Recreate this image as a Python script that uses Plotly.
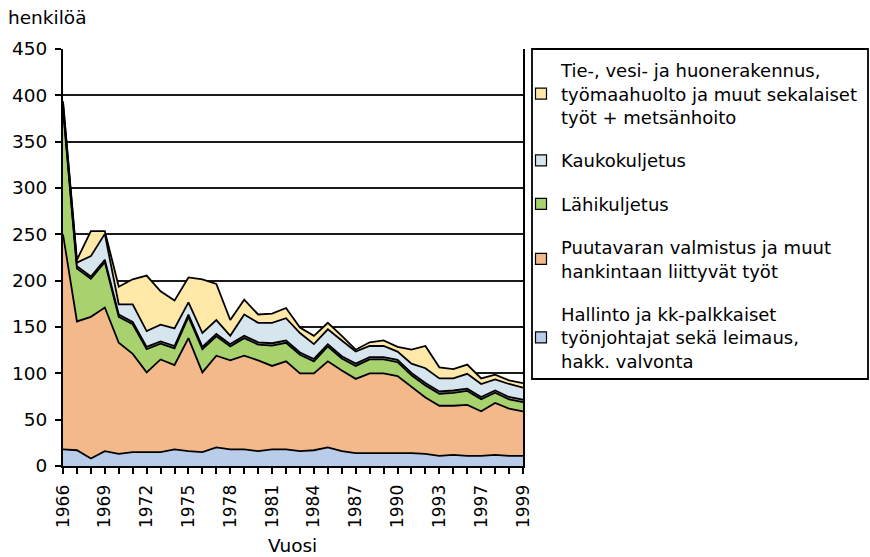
import plotly.graph_objects as go

# ---- data -------------------------------------------------------------
years = [str(y) for y in range(1966, 1994)] + ["1994", "1995", "1996", "1997", "1998", "1999"]
tick_labels = ["1966", "1969", "1972", "1975", "1978", "1981", "1984",
               "1987", "1990", "1993", "1997", "1999"]

hallinto = [18, 17, 8, 16, 13, 15, 15, 15, 18, 16, 15, 20, 18, 18, 16, 18, 18,
            16, 17, 20, 16, 14, 14, 14, 14, 14, 13, 11, 12, 11, 11, 12, 11, 11]
puutavara = [232, 139, 153, 155, 120, 106, 86, 100, 91, 122, 86, 99, 96, 101, 98, 90, 95,
             84, 83, 93, 87, 80, 86, 86, 83, 71, 61, 54, 53, 55, 48, 56, 51, 48]
lahikuljetus = [135, 57, 41, 49, 28, 32, 25, 17, 18, 23, 25, 21, 15, 19, 17, 22, 20,
                20, 13, 16, 13, 14, 15, 15, 15, 13, 13, 13, 14, 15, 13, 11, 10, 10]
muu = [2.5] * 34
kaukokuljetus = [4, 4, 22, 28, 11, 19, 17, 18, 19, 13, 15, 15, 9, 23, 21, 22, 24,
                 21, 16, 16, 17, 13, 12, 12, 9, 10, 16, 14, 13, 16, 14, 12, 14, 13]
tie_vesi = [2, 3, 27, 3, 19, 27, 60, 36, 30, 27, 58, 39, 17, 16, 9, 10, 11,
            6, 9, 7, 5, 2, 4, 6, 5, 15, 24, 12, 10, 10, 6, 5, 4, 5]

names = [
    "Hallinto ja kk-palkkaiset<br>työnjohtajat sekä leimaus,<br>hakk. valvonta",
    "Puutavaran valmistus ja muut<br>hankintaan liittyvät työt",
    "Lähikuljetus",
    "",
    "Kaukokuljetus",
    "Tie-, vesi- ja huonerakennus,<br>työmaahuolto ja muut sekalaiset<br>työt + metsänhoito",
]
series = [hallinto, puutavara, lahikuljetus, muu, kaukokuljetus, tie_vesi]
colors = ["#B9CCEA", "#F4B98A", "#A8D26E", "#8E8E8E", "#D7E5EE", "#FFE8A8"]

# ---- figure -----------------------------------------------------------
x = list(range(len(years)))
FONT = "DejaVu Sans"
fig = go.Figure()

for vals, col in zip(series, colors):
    fig.add_trace(go.Scatter(
        x=x, y=vals, stackgroup="one", mode="lines",
        line=dict(color="black", width=1.8),
        fillcolor=col, showlegend=False, hoverinfo="skip"))

# legend entries (square swatches), top entry first
for i in reversed(range(len(names))):
    if not names[i]:
        continue
    fig.add_trace(go.Scatter(
        x=[None], y=[None], mode="markers", name=names[i], legendgroup=f"g{i}",
        marker=dict(symbol="square", size=11, color=colors[i],
                    line=dict(color="black", width=1.2))))

tickvals = x
ticktext = [years[i] if i % 3 == 0 else "" for i in x]
ticktext[30] = tick_labels[10]
ticktext[33] = tick_labels[11]

W, H = 870, 557
L, R, T, B = 63, 523, 49, 466

def px(v):
    return (v - L) / (R - L)

def py(v):
    return (B - v) / (B - T)

fig.update_layout(
    width=W, height=H,
    margin=dict(l=L, r=W - R, t=T, b=H - B, autoexpand=False),
    paper_bgcolor="white", plot_bgcolor="white",
    font=dict(family=FONT, size=18, color="black"),
    showlegend=True,
    legend=dict(
        x=px(521), xanchor="left",
        y=py(52), yanchor="top",
        traceorder="grouped",
        bgcolor="rgba(0,0,0,0)", borderwidth=0,
        font=dict(family=FONT, size=18, color="black"),
        tracegroupgap=17,
    ),
    xaxis=dict(
        range=[0, 33], tickmode="array", tickvals=tickvals, ticktext=ticktext,
        tickangle=-90, ticks="outside", ticklen=6, tickwidth=1.8,
        tickcolor="black", showline=True, linecolor="black", linewidth=2,
        showgrid=False, zeroline=False, ticklabelstandoff=4,
        tickfont=dict(family=FONT, size=17),
    ),
    yaxis=dict(
        range=[0, 450], dtick=50, ticks="outside", ticklen=6, tickwidth=1.8,
        tickcolor="black", showline=True, linecolor="black", linewidth=2,
        mirror=True, showgrid=True, gridcolor="#1a1a1a", gridwidth=1.6,
        zeroline=False, ticklabelstandoff=4,
        tickfont=dict(family=FONT, size=18.5),
    ),
    shapes=[dict(type="rect", xref="paper", yref="paper",
                 x0=px(532), x1=px(868),
                 y0=py(379), y1=py(49),
                 line=dict(color="black", width=1.8), fillcolor="rgba(0,0,0,0)")],
    annotations=[
        dict(text="henkilöä", xref="paper", yref="paper",
             x=px(6), y=py(17), xanchor="left", yanchor="middle",
             showarrow=False, font=dict(family=FONT, size=18.5)),
        dict(text="Vuosi", xref="paper", yref="paper",
             x=px(292.5), y=py(545), xanchor="center", yanchor="middle",
             showarrow=False, font=dict(family=FONT, size=18.5)),
    ],
)

fig.write_html("out.html", config={"displayModeBar": False},
               post_script="document.body.style.margin='0px';")
